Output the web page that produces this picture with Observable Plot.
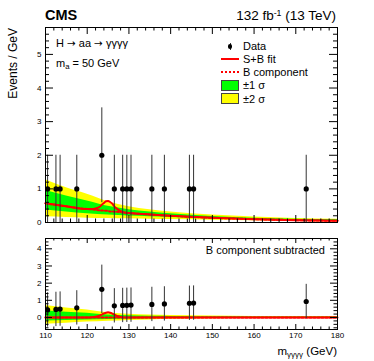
<!DOCTYPE html>
<html><head><meta charset="utf-8">
<script src="https://cdn.jsdelivr.net/npm/d3@7"></script>
<script src="https://cdn.jsdelivr.net/npm/@observablehq/plot@0.6"></script>
<style>
body{margin:0;background:#fff;}
#wrap{position:relative;width:374px;height:361px;font-family:"Liberation Sans",Arial,sans-serif;overflow:hidden;background:#fff;}
.t{position:absolute;white-space:nowrap;line-height:1;color:#000;}
.p{position:absolute;left:0;}
.sup{font-size:0.65em;position:relative;top:-0.45em;}
.sub{font-size:0.7em;position:relative;top:0.3em;}
.arr{font-family:"DejaVu Sans",sans-serif;font-size:0.95em;}
</style></head><body><div id="wrap"></div>
<script>
// ---- data ----
const dataMass  = [110.5,112.5,113.5,117.5,123.5,126.5,128.5,129.5,130.5,135.5,138.5,144.5,145.5,172.5];
const dataCount = [1,1,1,1,2,1,1,1,1,1,1,1,1,1];
const dataErr   = [1,1,1,1,1.41,1,1,1,1,1,1,1,1,1];
const dataSub   = [0.44,0.47,0.49,0.56,1.64,0.68,0.70,0.71,0.72,0.76,0.79,0.83,0.84,0.93];

const curveMass = [110,115,120,121,122,123,123.5,124,124.5,125,125.5,126,126.5,127,128,129,130,135,140,150,160,170,180];
const bkgFit    = [0.57,0.48,0.40,0.39,0.38,0.36,0.36,0.35,0.35,0.34,0.33,0.33,0.32,0.32,0.31,0.29,0.28,0.24,0.20,0.14,0.10,0.07,0.05];
const sigFit    = [0,0,0,0.01,0.04,0.11,0.17,0.23,0.28,0.30,0.28,0.23,0.16,0.10,0.03,0.005,0,0,0,0,0,0,0];

const bandMass  = [110,115,120,125,130,135,140,150,160,170,180];
const band2Hi   = [1.27,1.03,0.84,0.62,0.47,0.38,0.31,0.22,0.16,0.12,0.10];
const band1Hi   = [0.95,0.79,0.64,0.48,0.38,0.31,0.26,0.18,0.13,0.10,0.08];
const band1Lo   = [0.37,0.31,0.26,0.22,0.19,0.17,0.15,0.11,0.08,0.05,0.03];
const band2Lo   = [0.17,0.15,0.13,0.12,0.11,0.10,0.09,0.07,0.05,0.03,0.02];

const xTickLabels = [110,120,130,140,150,160,170,180];
const yTickUpper  = [0,1,2,3,4,5];
const yTickLower  = [0,1,2,3,4];

// ---- tables ----
const bkgAt = new Map(curveMass.map((m,i)=>[m,bkgFit[i]]));
const dataRows = dataMass.map((m,i)=>({m, n:dataCount[i], e:dataErr[i], s:dataSub[i]}));
const curveRows = curveMass.map((m,i)=>({m, b:bkgFit[i], sb:bkgFit[i]+sigFit[i], s:sigFit[i]}));
const bandRows = bandMass.map((m,i)=>({m, h2:band2Hi[i], h1:band1Hi[i], l1:band1Lo[i], l2:band2Lo[i], b:bkgAt.get(m)}));

const W = 374, ML = 45, MR = 37, FW = W-ML-MR;
const xMinor = d3.range(110,181,2).filter(v=>v%10!==0);

function ticks(fh, yMaj, yMin, lx, lxm, ly, lym){
  return [
    Plot.tickX(xTickLabels,{x:d=>d, insetTop:fh-lx, stroke:"black"}),
    Plot.tickX(xTickLabels,{x:d=>d, insetBottom:fh-lx, stroke:"black"}),
    Plot.tickX(xMinor,{x:d=>d, insetTop:fh-lxm, stroke:"black"}),
    Plot.tickX(xMinor,{x:d=>d, insetBottom:fh-lxm, stroke:"black"}),
    Plot.tickY(yMaj,{y:d=>d, insetRight:FW-ly, stroke:"black"}),
    Plot.tickY(yMaj,{y:d=>d, insetLeft:FW-ly, stroke:"black"}),
    Plot.tickY(yMin,{y:d=>d, insetRight:FW-lym, stroke:"black"}),
    Plot.tickY(yMin,{y:d=>d, insetLeft:FW-lym, stroke:"black"}),
  ];
}

const style = {fontFamily:"Liberation Sans, Arial, sans-serif", fontSize:"8px", background:"transparent", overflow:"visible"};

// upper panel
const H1 = 232, MT1 = 27, MB1 = 10, FH1 = H1-MT1-MB1;
const yMinU = d3.range(0,5.81,0.2).map(v=>+v.toFixed(1)).filter(v=>Math.abs(v-Math.round(v))>1e-6);
const upper = Plot.plot({
  width:W, height:H1, marginLeft:ML, marginRight:MR, marginTop:MT1, marginBottom:MB1,
  style,
  x:{domain:[110,180], axis:null},
  y:{domain:[0,5.8], axis:null},
  marks:[
    Plot.areaY(bandRows,{x:"m", y1:"l2", y2:"h2", fill:"#ffff00", curve:"monotone-x"}),
    Plot.areaY(bandRows,{x:"m", y1:"l1", y2:"h1", fill:"#00ff00", curve:"monotone-x"}),
    Plot.line(curveRows,{x:"m", y:"b", stroke:"#ff0000", strokeWidth:2, strokeDasharray:"2,2", curve:"monotone-x"}),
    Plot.line(curveRows,{x:"m", y:"sb", stroke:"#ff0000", strokeWidth:2, curve:"monotone-x"}),
    Plot.ruleX(dataRows,{x:"m", y1:d=>Math.max(0,d.n-d.e), y2:d=>d.n+d.e, stroke:"#333", strokeWidth:1}),
    Plot.dot(dataRows,{x:"m", y:"n", r:2.6, fill:"black", stroke:null}),
    ...ticks(FH1, yTickUpper, yMinU, 7, 3.5, 8, 4),
    Plot.frame({stroke:"black", strokeWidth:1}),
    Plot.axisY(yTickUpper,{tickSize:0, tickPadding:4, label:null, fontSize:8})
  ]
});

// lower panel
const TOP2 = 232, H2 = 129, MT2 = 6, MB2 = 32, FH2 = H2-MT2-MB2;
const yMinL = d3.range(-0.6,4.61,0.2).map(v=>+v.toFixed(1)).filter(v=>Math.abs(v-Math.round(v))>1e-6);
const lower = Plot.plot({
  width:W, height:H2, marginLeft:ML, marginRight:MR, marginTop:MT2, marginBottom:MB2,
  style,
  x:{domain:[110,180], axis:null},
  y:{domain:[-0.7,4.6], axis:null},
  marks:[
    Plot.areaY(bandRows,{x:"m", y1:d=>d.l2-d.b, y2:d=>d.h2-d.b, fill:"#ffff00", curve:"monotone-x"}),
    Plot.areaY(bandRows,{x:"m", y1:d=>d.l1-d.b, y2:d=>d.h1-d.b, fill:"#00ff00", curve:"monotone-x"}),
    Plot.line(curveRows,{x:"m", y:d=>0, stroke:"#ff0000", strokeWidth:2, strokeDasharray:"2,2"}),
    Plot.line(curveRows,{x:"m", y:"s", stroke:"#ff0000", strokeWidth:2, curve:"monotone-x"}),
    Plot.ruleX(dataRows,{x:"m", y1:d=>d.s-d.e, y2:d=>d.s+d.e, stroke:"#333", strokeWidth:1}),
    Plot.dot(dataRows,{x:"m", y:"s", r:2.6, fill:"black", stroke:null}),
    ...ticks(FH2, yTickLower, yMinL, 5, 2.5, 7, 3.5),
    Plot.frame({stroke:"black", strokeWidth:1}),
    Plot.axisY(yTickLower,{tickSize:0, tickPadding:4, label:null, fontSize:8}),
    Plot.axisX(xTickLabels,{tickSize:0, tickPadding:3, label:null, fontSize:8})
  ]
});

const wrap = document.getElementById("wrap");
upper.classList.add("p"); upper.style.top = "0px";
lower.classList.add("p"); lower.style.top = TOP2+"px";
wrap.appendChild(upper); wrap.appendChild(lower);

function txt(html, x, yc, size, opts={}){
  const d = document.createElement("div");
  d.className = "t"; d.innerHTML = html;
  d.style.fontSize = size+"px";
  if (opts.bold) d.style.fontWeight = "bold";
  d.style.top = (yc-0.49*size)+"px";
  if (opts.align==="right") d.style.right = (W-x)+"px"; else d.style.left = x+"px";
  wrap.appendChild(d);
  return d;
}
function box(x,y,w,h,css){
  const d = document.createElement("div");
  d.style.cssText = `position:absolute;left:${x}px;top:${y}px;width:${w}px;height:${h}px;box-sizing:border-box;`+css;
  wrap.appendChild(d);
}

txt("CMS", 45, 15, 14.5, {bold:true});
txt('132 fb<span class="sup">-1</span> (13 TeV)', 336, 15.5, 13.5, {align:"right"});

// y axis title
const yt = document.createElement("div");
yt.className = "t"; yt.textContent = "Events / GeV";
yt.style.cssText += "font-size:12px;left:13px;top:28px;transform-origin:0 0;transform:rotate(-90deg) translate(-100%,-50%);";
wrap.appendChild(yt);

txt('H <span class="arr">→</span> aa <span class="arr">→</span> γγγγ', 56, 43, 11);
txt('m<span class="sub">a</span> = 50 GeV', 56, 63, 11);

// legend
const legY = [46, 59, 72.3, 85.7, 99];
txt("Data", 243, legY[0], 11);
txt("S+B fit", 243, legY[1], 11);
txt("B component", 243, legY[2], 11);
txt("±1 σ", 243, legY[3], 11);
txt("±2 σ", 243, legY[4], 11);
box(229.5, legY[0]-3.5, 1, 7, "background:#333;");
box(227.5, legY[0]-2, 4.5, 4.5, "background:#000;border-radius:50%;");
box(221, legY[1]-1, 18, 2, "background:#ff0000;");
box(221, legY[2]-1, 18, 2, "border-top:2px dotted #ff0000;");
box(221, 80, 18, 11, "background:#00ff00;border:1px solid #444;");
box(221, 93, 18, 11, "background:#ffff00;border:1px solid #444;");

txt("B component subtracted", 325, 250.7, 11, {align:"right"});
txt('m<span class="sub">γγγγ</span> (GeV)', 337, 351.5, 11.5, {align:"right"});
</script>
</body></html>
